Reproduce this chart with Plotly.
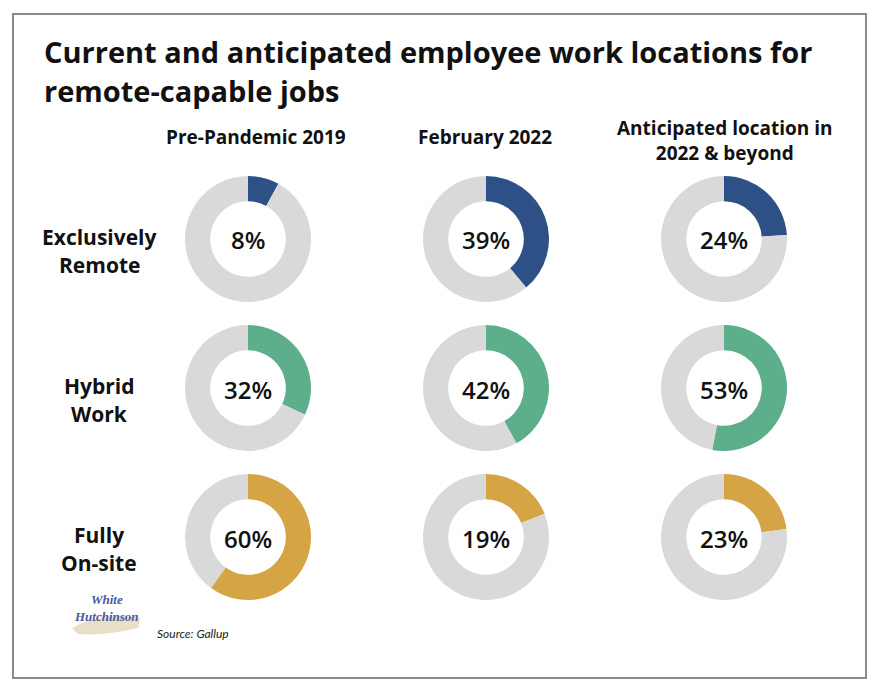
import plotly.graph_objects as go

columns = ["Pre-Pandemic 2019", "February 2022", "Anticipated location in<br>2022 & beyond"]
rows = [["Exclusively", "Remote"], ["Hybrid", "Work"], ["Fully", "On-site"]]
row_keys = ["Exclusively Remote", "Hybrid Work", "Fully On-site"]
values = {
    "Exclusively Remote": [8, 39, 24],
    "Hybrid Work": [32, 42, 53],
    "Fully On-site": [60, 19, 23],
}
title_lines = ["Current and anticipated employee work locations for", "remote-capable jobs"]
source = "Source: Gallup"
row_colors = ["#2D5087", "#5DAE8B", "#D4A445"]
rest_color = "#D9D9D9"

OFF = 8  # page body margin
W, H = 872, 686

def px(x):
    return (x - OFF) / W

def py(y):
    return 1 - (y - OFF) / H

col_cx = [248, 486, 724]
row_cy = [239, 388, 537]
R = 63

fig = go.Figure()
for ri, key in enumerate(row_keys):
    for ci in range(3):
        v = values[key][ci]
        cx, cy = col_cx[ci], row_cy[ri]
        fig.add_trace(go.Pie(
            values=[v, 100 - v],
            marker=dict(colors=[row_colors[ri], rest_color], line=dict(width=0)),
            hole=0.6, sort=False, direction="clockwise", rotation=0,
            textinfo="none", hoverinfo="skip", showlegend=False,
            domain=dict(x=[px(cx - R), px(cx + R)], y=[py(cy + R), py(cy - R)]),
        ))
        fig.add_annotation(x=px(cx), y=py(cy + 1), xref="paper", yref="paper",
                           text=f"{v}%", showarrow=False,
                           font=dict(family="Open Sans", size=24, color="#111111", weight=600),
                           xanchor="center", yanchor="middle")

# column headers
hdr_x = [256, 485, 724]
hdr_y = [137, 137, 140]
for ci, c in enumerate(columns):
    fig.add_annotation(x=px(hdr_x[ci]), y=py(hdr_y[ci]), xref="paper", yref="paper",
                       text=c, showarrow=False, align="center",
                       font=dict(family="Open Sans", size=19, color="#111111", weight=700),
                       xanchor="center", yanchor="middle")

# row labels
for ri, r in enumerate(rows):
    for li, line in enumerate(r):
        fig.add_annotation(x=px(99), y=py(row_cy[ri] - 2 + 28 * li), xref="paper", yref="paper",
                           text=line, showarrow=False, align="center",
                           font=dict(family="Open Sans", size=21, color="#111111", weight=700),
                           xanchor="center", yanchor="middle")

# title
for li, (t, yy) in enumerate(zip(title_lines, [51, 90])):
    fig.add_annotation(x=px(42), y=py(yy), xref="paper", yref="paper",
                       text=t, showarrow=False, align="left",
                       font=dict(family="Open Sans", size=29, color="#111111", weight=700),
                       xanchor="left", yanchor="middle")

# source & logo
fig.add_annotation(x=px(155), y=py(633), xref="paper", yref="paper",
                   text=f"<i>{source}</i>", showarrow=False,
                   font=dict(family="Lato", size=12, color="#222222"),
                   xanchor="left", yanchor="middle")
fig.add_shape(type="path", xref="paper", yref="paper",
              path=f"M {px(72)} {py(628)} Q {px(100)} {py(612)} {px(140)} {py(618)} "
                   f"L {px(138)} {py(628)} Q {px(105)} {py(636)} {px(78)} {py(634)} Z",
              fillcolor="#EADFC6", line=dict(width=0), layer="below")
fig.add_annotation(x=px(106), y=py(608), xref="paper", yref="paper",
                   text="<i><b>White<br>Hutchinson</b></i>", showarrow=False, align="center",
                   font=dict(family="Liberation Serif", size=13, color="#4A5BA0"),
                   xanchor="center", yanchor="middle")

fig.add_shape(type="rect", xref="paper", yref="paper",
              x0=px(13), x1=px(866), y0=py(678), y1=py(14),
              line=dict(color="#8A8A8A", width=2), fillcolor="rgba(0,0,0,0)")

fig.update_layout(width=W, height=H, margin=dict(l=0, r=0, t=0, b=0),
                  paper_bgcolor="white", plot_bgcolor="white")
fig.write_html("out.html")
